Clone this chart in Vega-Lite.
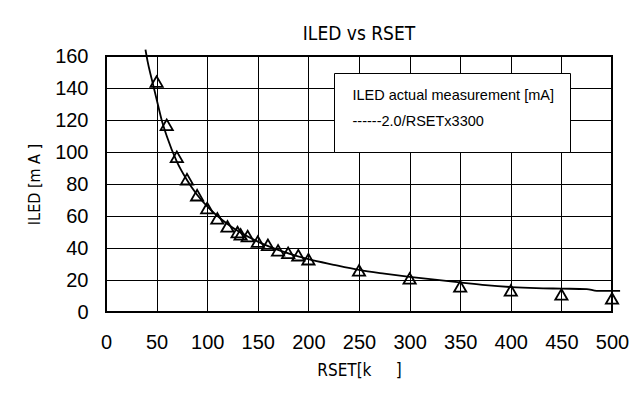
{
  "$schema": "https://vega.github.io/schema/vega-lite/v6.json",
  "width": 506,
  "height": 256,
  "autosize": {"type": "none"},
  "padding": {"left": 106, "top": 56, "right": 25, "bottom": 91},
  "background": "white",
  "title": {
    "text": "ILED vs RSET",
    "font": "DejaVu Sans Condensed, Liberation Sans, sans-serif",
    "fontSize": 19,
    "fontWeight": "normal",
    "color": "black",
    "anchor": "middle",
    "frame": "group",
    "baseline": "alphabetic",
    "offset": 19,
    "dy": 32
  },
  "datasets": {
    "curve": [
      {"RSET": 39, "ILED": 164, "series": "------2.0/RSETx3300"},
      {"RSET": 41, "ILED": 157, "series": "------2.0/RSETx3300"},
      {"RSET": 45, "ILED": 146, "series": "------2.0/RSETx3300"},
      {"RSET": 50, "ILED": 133, "series": "------2.0/RSETx3300"},
      {"RSET": 55, "ILED": 120, "series": "------2.0/RSETx3300"},
      {"RSET": 60, "ILED": 110, "series": "------2.0/RSETx3300"},
      {"RSET": 70, "ILED": 94, "series": "------2.0/RSETx3300"},
      {"RSET": 80, "ILED": 82.5, "series": "------2.0/RSETx3300"},
      {"RSET": 90, "ILED": 73.3, "series": "------2.0/RSETx3300"},
      {"RSET": 100, "ILED": 66, "series": "------2.0/RSETx3300"},
      {"RSET": 120, "ILED": 55, "series": "------2.0/RSETx3300"},
      {"RSET": 150, "ILED": 44, "series": "------2.0/RSETx3300"},
      {"RSET": 175, "ILED": 37.7, "series": "------2.0/RSETx3300"},
      {"RSET": 200, "ILED": 33, "series": "------2.0/RSETx3300"},
      {"RSET": 225, "ILED": 29.5, "series": "------2.0/RSETx3300"},
      {"RSET": 250, "ILED": 26.3, "series": "------2.0/RSETx3300"},
      {"RSET": 275, "ILED": 24, "series": "------2.0/RSETx3300"},
      {"RSET": 300, "ILED": 22, "series": "------2.0/RSETx3300"},
      {"RSET": 325, "ILED": 20.2, "series": "------2.0/RSETx3300"},
      {"RSET": 350, "ILED": 18.5, "series": "------2.0/RSETx3300"},
      {"RSET": 375, "ILED": 16.8, "series": "------2.0/RSETx3300"},
      {"RSET": 400, "ILED": 15.6, "series": "------2.0/RSETx3300"},
      {"RSET": 425, "ILED": 14.9, "series": "------2.0/RSETx3300"},
      {"RSET": 450, "ILED": 14.6, "series": "------2.0/RSETx3300"},
      {"RSET": 475, "ILED": 14.3, "series": "------2.0/RSETx3300"},
      {"RSET": 485, "ILED": 13.2, "series": "------2.0/RSETx3300"},
      {"RSET": 508, "ILED": 13.2, "series": "------2.0/RSETx3300"}
    ],
    "points": [
      {"RSET": 50, "ILED": 144, "series": "ILED actual measurement [mA]"},
      {"RSET": 60, "ILED": 117, "series": "ILED actual measurement [mA]"},
      {"RSET": 70, "ILED": 97, "series": "ILED actual measurement [mA]"},
      {"RSET": 80, "ILED": 83, "series": "ILED actual measurement [mA]"},
      {"RSET": 90, "ILED": 73, "series": "ILED actual measurement [mA]"},
      {"RSET": 100, "ILED": 65, "series": "ILED actual measurement [mA]"},
      {"RSET": 110, "ILED": 58.5, "series": "ILED actual measurement [mA]"},
      {"RSET": 120, "ILED": 53.5, "series": "ILED actual measurement [mA]"},
      {"RSET": 130, "ILED": 50, "series": "ILED actual measurement [mA]"},
      {"RSET": 133, "ILED": 48.5, "series": "ILED actual measurement [mA]"},
      {"RSET": 140, "ILED": 47.5, "series": "ILED actual measurement [mA]"},
      {"RSET": 150, "ILED": 44, "series": "ILED actual measurement [mA]"},
      {"RSET": 160, "ILED": 42, "series": "ILED actual measurement [mA]"},
      {"RSET": 170, "ILED": 38.5, "series": "ILED actual measurement [mA]"},
      {"RSET": 180, "ILED": 37, "series": "ILED actual measurement [mA]"},
      {"RSET": 190, "ILED": 35.5, "series": "ILED actual measurement [mA]"},
      {"RSET": 200, "ILED": 33, "series": "ILED actual measurement [mA]"},
      {"RSET": 250, "ILED": 26, "series": "ILED actual measurement [mA]"},
      {"RSET": 300, "ILED": 21, "series": "ILED actual measurement [mA]"},
      {"RSET": 350, "ILED": 16, "series": "ILED actual measurement [mA]"},
      {"RSET": 400, "ILED": 13.5, "series": "ILED actual measurement [mA]"},
      {"RSET": 450, "ILED": 11, "series": "ILED actual measurement [mA]"},
      {"RSET": 500, "ILED": 8.5, "series": "ILED actual measurement [mA]"}
    ]
  },
  "encoding": {
    "x": {
      "field": "RSET",
      "type": "quantitative",
      "scale": {"domain": [0, 500], "nice": false, "zero": true},
      "axis": {
        "values": [0, 50, 100, 150, 200, 250, 300, 350, 400, 450, 500],
        "title": "RSET[k\u00a0\u00a0\u00a0\u00a0\u00a0]",
        "titleFont": "DejaVu Sans Condensed, Liberation Sans, sans-serif",
        "titleFontSize": 17,
        "titleFontWeight": "normal",
        "titleColor": "black",
        "titlePadding": 10,
        "labelFont": "Liberation Sans",
        "labelFontSize": 20,
        "labelColor": "black",
        "labelPadding": 20,
        "labelFlush": false,
        "labelOverlap": false,
        "ticks": false,
        "domain": false,
        "grid": true,
        "gridColor": "black",
        "gridOpacity": 1,
        "gridWidth": 1
      }
    },
    "y": {
      "field": "ILED",
      "type": "quantitative",
      "scale": {"domain": [0, 160], "nice": false},
      "axis": {
        "values": [0, 20, 40, 60, 80, 100, 120, 140, 160],
        "title": "ILED [m A ]",
        "titleFont": "DejaVu Sans Condensed, Liberation Sans, sans-serif",
        "titleFontSize": 16,
        "titleFontWeight": "normal",
        "titleColor": "black",
        "titlePadding": 12,
        "labelFont": "Liberation Sans",
        "labelFontSize": 20,
        "labelColor": "black",
        "labelPadding": 18,
        "labelFlush": false,
        "labelOverlap": false,
        "ticks": false,
        "domain": false,
        "grid": true,
        "gridColor": "black",
        "gridOpacity": 1,
        "gridWidth": 1
      }
    },
    "color": {
      "field": "series",
      "type": "nominal",
      "scale": {
        "domain": ["ILED actual measurement [mA]", "------2.0/RSETx3300"],
        "range": ["black", "black"]
      },
      "legend": {
        "title": "\u00a0",
        "titleOrient": "bottom",
        "titleFontSize": 8,
        "titlePadding": 0,
        "orient": "none",
        "legendX": 228,
        "legendY": 17,
        "strokeColor": "black",
        "fillColor": "white",
        "padding": 16,
        "symbolOpacity": 0,
        "symbolSize": 0,
        "symbolStrokeWidth": 0,
        "labelOffset": -12,
        "labelFont": "Liberation Sans",
        "labelFontSize": 14.5,
        "labelColor": "black",
        "labelLimit": 400,
        "rowPadding": 10.5,
        "labelExpr": "datum.label + '\u00a0\u00a0\u00a0\u00a0\u00a0\u00a0\u00a0'"
      }
    }
  },
  "layer": [
    {
      "data": {"name": "curve"},
      "mark": {"type": "line", "interpolate": "monotone", "strokeWidth": 1.8, "clip": false}
    },
    {
      "data": {"name": "points"},
      "mark": {"type": "point", "shape": "triangle-up", "filled": false, "size": 150, "strokeWidth": 1.8, "opacity": 1}
    }
  ],
  "config": {
    "view": {"stroke": "black", "strokeWidth": 2}
  }
}
